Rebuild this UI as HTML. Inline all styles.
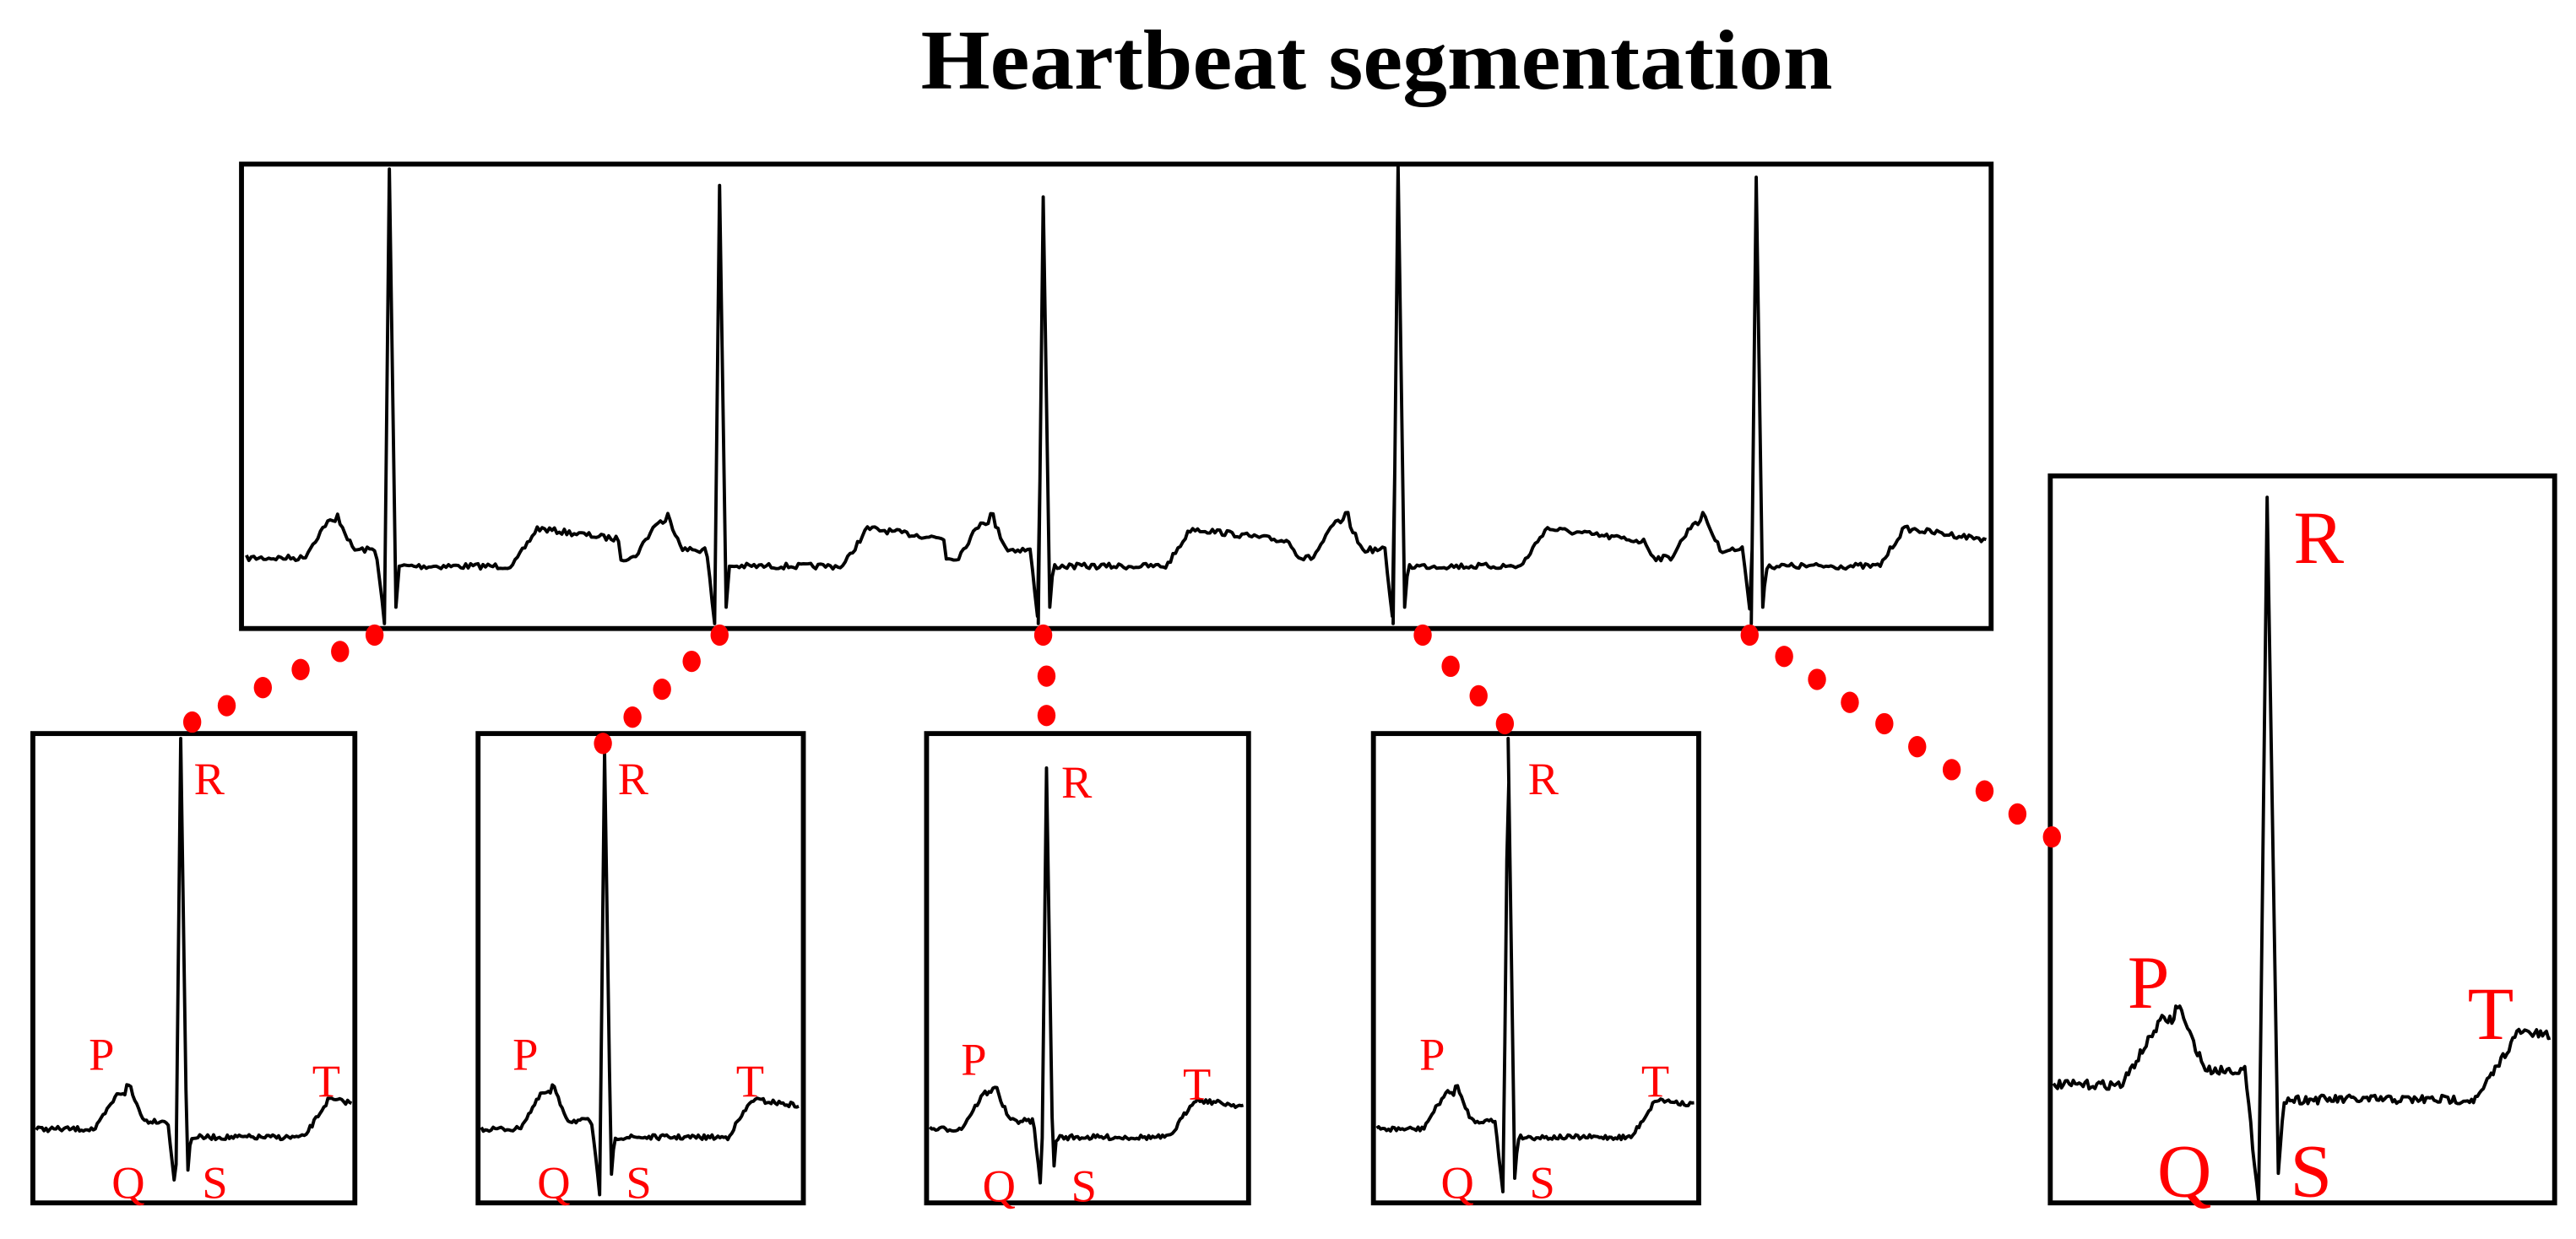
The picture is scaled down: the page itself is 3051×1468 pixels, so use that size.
<!DOCTYPE html>
<html><head><meta charset="utf-8"><style>
html,body{margin:0;padding:0;background:#fff;}
svg{display:block;}
</style></head><body>
<svg id="s" width="3051" height="1468" viewBox="0 0 1568 755" preserveAspectRatio="none" xmlns="http://www.w3.org/2000/svg">
<text x="838" y="54" text-anchor="middle" font-family="Liberation Serif, serif" font-weight="bold" font-size="52" textLength="555" lengthAdjust="spacingAndGlyphs">Heartbeat segmentation</text>
<g fill="none" stroke="#000" stroke-width="3">
<rect x="147" y="100" width="1065" height="283"/>
<rect x="20" y="447" width="196" height="286"/>
<rect x="291" y="447" width="198" height="286"/>
<rect x="564" y="447" width="196" height="286"/>
<rect x="836" y="447" width="198" height="286"/>
<rect x="1248" y="290" width="307" height="443"/>
</g>
<g id="traces" fill="none" stroke="#000" stroke-width="2" stroke-linejoin="round"></g>
<g id="dots" fill="#f00"></g>
<g fill="#f00" font-family="Liberation Serif, serif" font-size="28">
<text x="118" y="484">R</text><text x="54" y="652">P</text><text x="190" y="668">T</text><text x="68" y="730">Q</text><text x="123" y="730">S</text>
<text x="376" y="484">R</text><text x="312" y="652">P</text><text x="448" y="668">T</text><text x="327" y="730">Q</text><text x="381" y="730">S</text>
<text x="646" y="486">R</text><text x="585" y="655">P</text><text x="720" y="670">T</text><text x="598" y="732">Q</text><text x="652" y="732">S</text>
<text x="930" y="484">R</text><text x="864" y="652">P</text><text x="999" y="668">T</text><text x="877" y="730">Q</text><text x="931" y="730">S</text>
</g>
<g fill="#f00" font-family="Liberation Serif, serif" font-size="46">
<text x="1396" y="343">R</text><text x="1295" y="614">P</text><text x="1502" y="633">T</text><text x="1313" y="729">Q</text><text x="1394" y="729">S</text>
</g>
</svg>
<script>
var seed=7;function rnd(){seed=(seed*16807)%2147483647;return seed/2147483647;}
function lerp(a,b,t0,t1,t){return a+(b-a)*(t-t0)/(t1-t0);}
var QD=40;
function f(t,H){
 if(t<-52)return 0;
 if(t<-38)return lerp(0,-22,-52,-38,t);
 if(t<-30)return -22+(t>-33?-4:0);
 if(t<-22)return lerp(-22,-5,-30,-22,t);
 if(t<-8)return -5;
 if(t<-3)return lerp(-5,QD,-8,-3,t);
 if(t<0)return lerp(QD,-H,-3,0,t);
 if(t<4)return lerp(-H,30,0,4,t);
 if(t<6)return lerp(30,5,4,6,t);
 if(t<75)return 5;
 if(t<90)return lerp(5,-18,75,90,t);
 if(t<150)return lerp(-18,-10,90,150,t);
 if(t<156)return lerp(-10,0,150,156,t);
 return 0;
}
var g=document.getElementById('traces');
function path(pts){var p=document.createElementNS('http://www.w3.org/2000/svg','path');p.setAttribute('d','M'+pts.map(function(q){return q[0].toFixed(1)+','+q[1].toFixed(1)}).join('L'));g.appendChild(p);}
var Rs=[237,438,635,851,1069],tops=[103,113,120,100,108],pts=[];
for(var x=150;x<=1210;x+=1.5){
 var best=0,bd=1e9;for(var i=0;i<Rs.length;i++){var d=x-Rs[i];if(d>=-60&&d<156&&Math.abs(d)<bd){bd=Math.abs(d);best=i;}}
 var t=x-Rs[best];if(t<-60||t>=156){t=200;}
 var base=340,H=base-tops[best];
 var y=base+f(t,H);
 if(t<-4||t>6)y+=(rnd()-0.5)*3.5;
 pts.push([x,y]);
 if(t>-3&&t<=-1.5){pts.push([Rs[best]-3,base+QD]);}
 if(t>=-1.5&&t<0){pts.push([Rs[best],tops[best]]);}
 if(t>2.5&&t<=4){pts.push([Rs[best]+4,base+30]);}
}
path(pts);
function small(x0,x1,R,base,top,sx,sy,qd){
 QD=qd||40;
 var p=[];for(var x=x0;x<=x1;x+=1.2){var t=(x-R)/sx;var y=base+sy*f(t,(base-top)/sy);if(t<-4||t>6)y+=(rnd()-0.5)*3*sy;p.push([x,y]);
 if(Math.abs(x-R)<0.61){p.push([R,top]);}}
 path(p);
}
small(22,214,110,688,450,1,1);
small(293,487,368,688,458,1,1);
small(566,758,637,688,468,1,1);
small(838,1032,918,688,450,1,1);
small(1250,1553,1380,661,303,1.7,1.8,40);
var chains=[[[228,387],[207,397],[183,408],[160,419],[138,430],[117,440]],
[[438,387],[421,403],[403,420],[385,437],[367,453]],
[[635,387],[637,412],[637,436]],
[[866,387],[883,406],[900,424],[916,441]],
[[1065,387],[1086,400],[1106,414],[1126,428],[1147,441],[1167,455],[1188,469],[1208,482],[1228,496],[1249,510]]];
var dg=document.getElementById('dots');
chains.forEach(function(c){c.forEach(function(q){var e=document.createElementNS('http://www.w3.org/2000/svg','ellipse');e.setAttribute('cx',q[0]);e.setAttribute('cy',q[1]);e.setAttribute('rx',5.5);e.setAttribute('ry',6.5);dg.appendChild(e);});});
</script>
</body></html>
